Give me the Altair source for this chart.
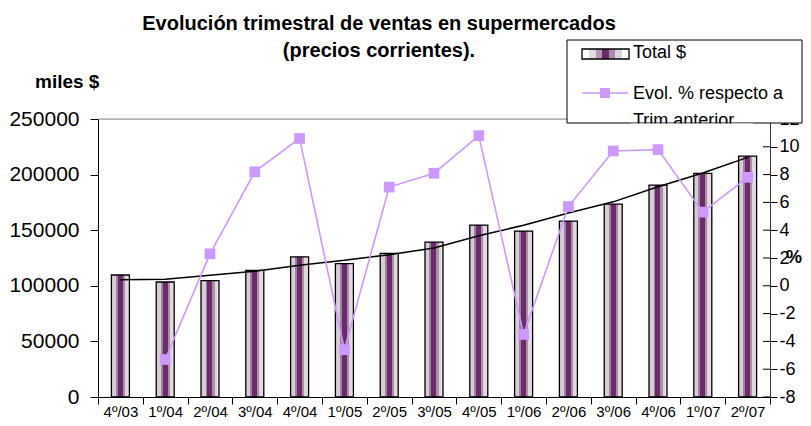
import altair as alt
import pandas as pd

FONT = "Liberation Sans"

quarters = ["4º/03", "1º/04", "2º/04", "3º/04", "4º/04", "1º/05", "2º/05", "3º/05",
            "4º/05", "1º/06", "2º/06", "3º/06", "4º/06", "1º/07", "2º/07"]
sales = [109700, 103400, 104600, 113900, 126100, 119900, 129200, 139300,
         154600, 149200, 158200, 173500, 190600, 201100, 216700]
trend = [105500, 106000, 109500, 113000, 118500, 123000, 128000, 134000,
         145000, 154500, 165500, 175500, 189000, 201500, 215500]
pct = [None, -5.3, 2.3, 8.2, 10.6, -4.6, 7.1, 8.1,
       10.8, -3.5, 5.7, 9.7, 9.8, 5.3, 7.8]

left_ticks = [0, 50000, 100000, 150000, 200000, 250000]
right_ticks = [-8, -6, -4, -2, 0, 2, 4, 6, 8, 10, 12]

title_lines = ["Evolución trimestral de ventas en supermercados", "(precios corrientes)."]
left_title = "miles $"
right_title = "%"
legend_labels = ["Total $", "Evol. % respecto a", "Trim anterior"]

df = pd.DataFrame({"q": quarters, "sales": sales, "trend": trend, "pct": pct})

bar_grad = alt.Gradient(
    gradient="linear", x1=0, x2=1, y1=0, y2=0,
    stops=[
        alt.GradientStop(offset=0.0, color="#d6cdd6"),
        alt.GradientStop(offset=0.25, color="#d6cdd6"),
        alt.GradientStop(offset=0.25, color="#9c849c"),
        alt.GradientStop(offset=0.36, color="#9c849c"),
        alt.GradientStop(offset=0.36, color="#6c2a6c"),
        alt.GradientStop(offset=0.63, color="#6c2a6c"),
        alt.GradientStop(offset=0.63, color="#a8909f"),
        alt.GradientStop(offset=0.76, color="#a8909f"),
        alt.GradientStop(offset=0.76, color="#ddd5dd"),
        alt.GradientStop(offset=1.0, color="#e6e0e6"),
    ],
)
legend_grad = alt.Gradient(
    gradient="linear", x1=0, x2=1, y1=0, y2=0,
    stops=[
        alt.GradientStop(offset=0.0, color="#ffffff"),
        alt.GradientStop(offset=0.15, color="#ffffff"),
        alt.GradientStop(offset=0.15, color="#e6dce6"),
        alt.GradientStop(offset=0.3, color="#e6dce6"),
        alt.GradientStop(offset=0.3, color="#b29ab2"),
        alt.GradientStop(offset=0.42, color="#b29ab2"),
        alt.GradientStop(offset=0.42, color="#6c2a6c"),
        alt.GradientStop(offset=0.58, color="#6c2a6c"),
        alt.GradientStop(offset=0.58, color="#a88ca8"),
        alt.GradientStop(offset=0.7, color="#a88ca8"),
        alt.GradientStop(offset=0.7, color="#ddd3dd"),
        alt.GradientStop(offset=0.85, color="#ddd3dd"),
        alt.GradientStop(offset=0.85, color="#ffffff"),
        alt.GradientStop(offset=1.0, color="#ffffff"),
    ],
)

x_enc = alt.X(
    "q:N", sort=quarters, title=None,
    scale=alt.Scale(paddingInner=0, paddingOuter=0),
    axis=alt.Axis(labelAngle=0, labelFont=FONT, labelFontSize=15, labelColor="black",
                  tickBand="extent", tickSize=7, tickColor="black", domainColor="black",
                  labelPadding=0, grid=False),
)

left_axis = alt.Axis(values=left_ticks, format="d", labelFont=FONT, labelFontSize=21,
                     labelColor="black", tickSize=8, tickColor="black", domainColor="black",
                     labelPadding=11, grid=False, title=None)
right_axis = alt.Axis(values=right_ticks, orient="right", labelFont=FONT, labelFontSize=18,
                      labelColor="black", tickSize=7, tickColor="black", domainColor="#333333",
                      labelPadding=2, grid=False, title=None, labelExpr="'' + datum.value")

left_scale = alt.Scale(domain=[0, 250000])
right_scale = alt.Scale(domain=[-8, 12])

base = alt.Chart(df)

top_grid = alt.Chart(pd.DataFrame({"v": [250000]})).mark_rule(color="#888888", strokeWidth=1).encode(
    y=alt.Y("v:Q", scale=left_scale, axis=left_axis)
)
bars = base.mark_bar(size=18, fill=bar_grad, stroke="black", strokeWidth=1.3).encode(
    x=x_enc, y=alt.Y("sales:Q", scale=left_scale, axis=left_axis)
)
trend_line = base.mark_line(color="black", strokeWidth=1.5).encode(
    x=x_enc, y=alt.Y("trend:Q", scale=left_scale, axis=left_axis)
)
left = alt.layer(top_grid, bars, trend_line)

pct_line = base.mark_line(
    color="#CC99FF", strokeWidth=1.6,
    point=alt.OverlayMarkDef(shape="square", size=115, filled=True, color="#CC99FF", opacity=1),
).encode(x=x_enc, y=alt.Y("pct:Q", scale=right_scale, axis=right_axis))
inner_ticks = alt.Chart(pd.DataFrame({"tv": right_ticks})).mark_rule(color="black").encode(
    x=alt.value(665), x2=alt.value(672),
    y=alt.Y("tv:Q", scale=right_scale, axis=right_axis),
)
right = alt.layer(pct_line, inner_ticks)


def txt(text, x, y, size, bold=False, align="left", baseline="alphabetic"):
    return alt.Chart(pd.DataFrame({"t": [text]})).mark_text(
        font=FONT, fontSize=size, fontWeight="bold" if bold else "normal",
        align=align, baseline=baseline, color="black",
    ).encode(text="t:N", x=alt.value(x), y=alt.value(y))


one = pd.DataFrame({"k": [0]})
legend_box = alt.Chart(one).mark_rect(fill="white", stroke="black", strokeWidth=1).encode(
    x=alt.value(469), x2=alt.value(704), y=alt.value(-79), y2=alt.value(4)
)
legend_bar = alt.Chart(one).mark_rect(fill=legend_grad, stroke="black", strokeWidth=1.3).encode(
    x=alt.value(484), x2=alt.value(531), y=alt.value(-70), y2=alt.value(-60)
)
legend_line = alt.Chart(one).mark_rule(color="#CC99FF", strokeWidth=1.6).encode(
    x=alt.value(484), x2=alt.value(530), y=alt.value(-26)
)
legend_sq = alt.Chart(one).mark_point(shape="square", size=100, filled=True, color="#CC99FF", opacity=1).encode(
    x=alt.value(507), y=alt.value(-26)
)
cover = alt.Chart(one).mark_rect(fill="white").encode(
    x=alt.value(533), x2=alt.value(655), y=alt.value(4.6), y2=alt.value(14)
)

chart = alt.layer(
    left, right,
    txt(title_lines[0], 281, -89, 20, bold=True, align="center"),
    txt(title_lines[1], 281, -62, 20, bold=True, align="center"),
    txt(left_title, -63, -31, 19, bold=True),
    txt(right_title, 688, 139, 18, bold=True, baseline="middle"),
    legend_box, legend_bar, legend_line, legend_sq,
    txt(legend_labels[0], 535, -61, 18),
    txt(legend_labels[1], 535, -20, 18),
    txt(legend_labels[2], 535, 7, 18),
    cover,
).resolve_scale(y="independent").properties(
    width=672, height=278,
    autosize=alt.AutoSizeParams(type="none"),
    padding={"left": 90, "top": 111, "right": 33, "bottom": 21},
).configure_view(stroke=None).configure(background="white")

chart.save("out.html", embed_options={"renderer": "svg", "actions": False})
